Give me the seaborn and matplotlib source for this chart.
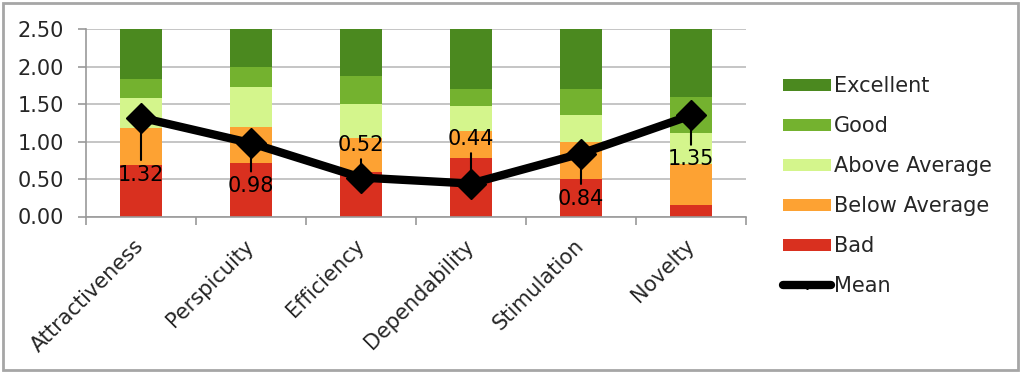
import matplotlib
matplotlib.use("Agg")
import matplotlib.pyplot as plt
import seaborn as sns
import numpy as np
import pandas as pd
from matplotlib.patches import Patch, Rectangle
from matplotlib.lines import Line2D

# ---- data ----
categories = ["Attractiveness", "Perspicuity", "Efficiency", "Dependability", "Stimulation", "Novelty"]
bad_top = [0.69, 0.72, 0.60, 0.78, 0.50, 0.16]
below_avg_top = [1.18, 1.20, 1.05, 1.14, 1.00, 0.70]
above_avg_top = [1.58, 1.73, 1.50, 1.48, 1.35, 1.12]
good_top = [1.84, 2.00, 1.88, 1.70, 1.70, 1.60]
excellent_top = [2.50, 2.50, 2.50, 2.50, 2.50, 2.50]
means = [1.32, 0.98, 0.52, 0.44, 0.84, 1.35]
mean_labels = ["1.32", "0.98", "0.52", "0.44", "0.84", "1.35"]
y_ticks = [0.0, 0.5, 1.0, 1.5, 2.0, 2.5]
y_tick_labels = ["0.00", "0.50", "1.00", "1.50", "2.00", "2.50"]

# ---- style ----
label_offsets = [-57, -43, 33, 45, -45, -44]  # pixels, vertical offset of data labels
colors = {
    "Excellent": "#4b891f",
    "Good": "#74b22f",
    "Above Average": "#d4f58c",
    "Below Average": "#fda233",
    "Bad": "#d9301f",
}
FS = 15

sns.set_theme(style="white")
plt.rcParams["font.family"] = ["DejaVu Sans"]

fig = plt.figure(figsize=(10.24, 3.75), dpi=100)
ax = fig.add_axes([86 / 1024, 1 - 216.5 / 375, (746 - 86) / 1024, (216.5 - 29.3) / 375])

layers = [
    ("Excellent", excellent_top),
    ("Good", good_top),
    ("Above Average", above_avg_top),
    ("Below Average", below_avg_top),
    ("Bad", bad_top),
]
for name, vals in layers:
    df = pd.DataFrame({"cat": categories, "val": vals})
    sns.barplot(data=df, x="cat", y="val", color=colors[name], width=0.39,
                linewidth=0, saturation=1, ax=ax, zorder=2)

x = np.arange(len(categories))
ax.plot(x, means, color="black", lw=6, marker="D", markersize=15,
        solid_joinstyle="miter", zorder=5)

for xi, m, lab, off in zip(x, means, mean_labels, label_offsets):
    ax.annotate(lab, xy=(xi, m), xytext=(0, off), textcoords="offset pixels",
                ha="center", va="center", fontsize=FS, color="black",
                arrowprops=dict(arrowstyle="-", color="black", lw=1.5,
                                shrinkA=1, shrinkB=0), zorder=6)

ax.set_ylim(0, 2.5)
ax.set_xlim(-0.5, len(categories) - 0.5)
ax.set_yticks(y_ticks)
ax.set_yticklabels(y_tick_labels, fontsize=FS)
ax.set_xticks(x)
ax.set_xticklabels(categories, rotation=45, ha="right", va="center",
                   rotation_mode="anchor", fontsize=FS)
ax.set_xticks(np.arange(len(categories) + 1) - 0.5, minor=True)
ax.tick_params(axis="x", which="major", length=0, pad=19)
ax.tick_params(axis="x", which="minor", length=6, width=1.2, color="#999999", direction="out", bottom=True)
ax.tick_params(axis="y", length=6, width=1.2, color="#999999", direction="out", left=True, pad=10)
ax.set_xlabel("")
ax.set_ylabel("")
ax.grid(axis="y", color="#bbbbbb", lw=1.2, zorder=0)
ax.grid(axis="x", visible=False)
ax.set_axisbelow(True)
for s in ["top", "right"]:
    ax.spines[s].set_visible(False)
for s in ["left", "bottom"]:
    ax.spines[s].set_color("#999999")
    ax.spines[s].set_linewidth(1.2)

handles = [Patch(facecolor=colors[n], edgecolor="none") for n, _ in layers]
handles.append(Line2D([0], [0], color="black", lw=6, marker="D", markersize=4))
labels = [n for n, _ in layers] + ["Mean"]
fig.legend(handles, labels, loc="upper left", bbox_to_anchor=(783 / 1024, 1 - 76 / 375),
           frameon=False, fontsize=FS, handlelength=2.3, handleheight=0.5,
           handletextpad=0.15, labelspacing=0.96, borderpad=0, borderaxespad=0)

fig.patches.append(Rectangle((2.5 / 1024, 1 - 369.5 / 375), (1018 - 2.5) / 1024, (369.5 - 2.5) / 375,
                             transform=fig.transFigure, fill=False, ec="#a6a6a6", lw=2))

fig.savefig("out.png", dpi=100)
